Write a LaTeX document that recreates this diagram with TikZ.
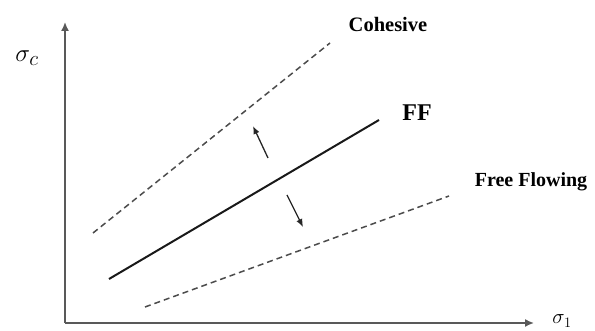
\documentclass[tikz,border=0pt]{standalone}
\usepackage{fontspec}
\setmainfont{Liberation Serif}
\usetikzlibrary{arrows.meta}
\begin{document}
\begin{tikzpicture}[x=1pt,y=-1pt,
  axis/.style={draw=black!65,line width=1.6pt,-{Latex[length=9pt,width=8pt]}},
  dashline/.style={draw=black!70,line width=1.5pt,dash pattern=on 6pt off 4pt},
  ffline/.style={draw=black!90,line width=2pt},
  smallarrow/.style={draw=black!85,line width=1.3pt,-{Latex[length=8pt,width=6.5pt]}},
  lbl/.style={font=\bfseries\fontsize{20.5}{22}\selectfont,inner sep=0pt},
  sig/.style={inner sep=0pt}]
\useasboundingbox (0,0) rectangle (595,331);
\coordinate (O) at (65,323);
\coordinate (Ytop) at (65,22);
\coordinate (Xend) at (534,323);
\draw[axis] (O) -- (Ytop);
\draw[axis] (O) -- (Xend);
% lines
\coordinate (C1) at (93,233);
\coordinate (C2) at (330,43);
\coordinate (F1) at (109,279);
\coordinate (F2) at (379,120);
\coordinate (G1) at (145,307);
\coordinate (G2) at (449,196);
\draw[dashline] (C1) -- (C2);
\draw[ffline] (F1) -- (F2);
\draw[dashline] (G1) -- (G2);
% arrows
\coordinate (A1) at (268,158);
\coordinate (A2) at (253,126);
\coordinate (B1) at (287,195);
\coordinate (B2) at (303,227);
\draw[smallarrow] (A1) -- (A2);
\draw[smallarrow] (B1) -- (B2);
% labels
\node[lbl] (coh) at (388,24) {Cohesive};
\node[lbl,font=\bfseries\fontsize{24}{26}\selectfont] (ff) at (417,113) {FF};
\node[lbl,font=\bfseries\fontsize{20}{22}\selectfont] (free) at (531,182) {Free Flowing};
\node[sig] (sc) at (27,58) {\fontsize{28}{30}\selectfont$\sigma_c$};
\node[sig] (s1) at (562,321) {\fontsize{21}{23}\selectfont$\sigma_1$};
\end{tikzpicture}
\end{document}
